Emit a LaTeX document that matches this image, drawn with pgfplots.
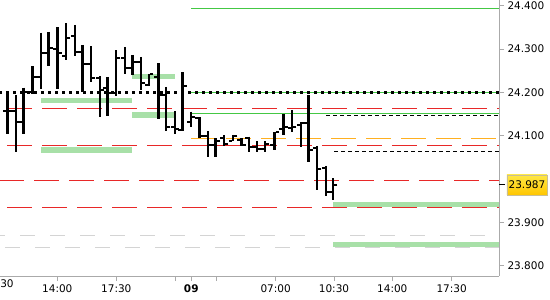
\documentclass[border=0pt]{standalone}
\usepackage{fontspec}
\setmainfont{DejaVu Sans}
\usepackage{pgfplots}
\usepackage{pgfplotstable}
\pgfplotsset{compat=1.18}
\definecolor{lgreen}{RGB}{168,224,168}
\definecolor{sgreen}{RGB}{68,200,68}
\definecolor{dred}{RGB}{232,40,40}
\definecolor{orng}{RGB}{255,176,32}
\definecolor{lgray}{RGB}{212,212,212}
\definecolor{axgray}{RGB}{170,170,170}
\definecolor{ytop}{RGB}{255,232,70}
\definecolor{ybot}{RGB}{255,198,0}
\definecolor{yborder}{RGB}{200,190,150}

\pgfplotstableread{
x o h l c
7.5 24.158 24.202 24.104 24.158
16 24.158 24.194 24.062 24.133
23.5 24.133 24.211 24.104 24.201
32.5 24.201 24.260 24.196 24.235
41 24.236 24.338 24.207 24.292
48.5 24.292 24.340 24.260 24.302
57.5 24.300 24.350 24.207 24.291
66 24.284 24.360 24.275 24.325
75 24.330 24.356 24.284 24.294
82.5 24.294 24.310 24.201 24.266
91 24.266 24.307 24.224 24.233
100 24.233 24.238 24.144 24.206
107.5 24.210 24.236 24.146 24.198
116 24.198 24.298 24.192 24.279
125 24.279 24.305 24.243 24.256
132.5 24.256 24.287 24.240 24.271
141 24.271 24.282 24.206 24.221
149 24.217 24.243 24.215 24.243
158.5 24.236 24.268 24.139 24.194
166 24.194 24.213 24.112 24.121
175 24.121 24.157 24.104 24.116
182.5 24.114 24.247 24.111 24.215
191 24.133 24.156 24.120 24.143
199.5 24.141 24.143 24.096 24.100
208 24.100 24.111 24.052 24.079
215.5 24.079 24.095 24.052 24.088
224 24.095 24.102 24.077 24.082
233 24.088 24.102 24.088 24.100
241.5 24.090 24.094 24.077 24.079
249 24.095 24.098 24.062 24.075
257 24.075 24.088 24.063 24.070
265 24.070 24.088 24.063 24.082
274.5 24.079 24.110 24.067 24.110
283.5 24.116 24.150 24.102 24.120
292 24.117 24.160 24.108 24.121
301 24.125 24.131 24.075 24.129
308.5 24.129 24.194 24.040 24.067
317 24.071 24.077 23.975 24.023
326 24.025 24.031 23.961 23.971
333 23.971 24.002 23.952 23.987
}\ohlc

\begin{document}
\begin{tikzpicture}
\begin{axis}[
  at={(-1bp,24bp)}, anchor=south west,
  scale only axis, width=500bp, height=276bp,
  xmin=-1, xmax=499, ymin=23.7767, ymax=24.4134,
  axis x line*=bottom, axis y line*=right,
  axis line style={axgray, line width=1bp, -},
  tick align=outside, major tick length=5bp,
  tick style={axgray, line width=1bp},
  xtick={57.3,116.3,175.3,191.3,216.3,275.7,334,392.3,451.7},
  xticklabels={14:00,17:30,,\textbf{09},,07:00,10:30,14:00,17:30},
  extra x ticks={7}, extra x tick labels={30},
  extra x tick style={major tick length=0bp},
  ytick={23.8,23.9,24.1,24.2,24.3,24.4},
  yticklabels={23.800,23.900,24.100,24.200,24.300,24.400},
  ticklabel style={font=\fontsize{10.5bp}{12bp}\selectfont, text=black},
  extra y ticks={23.987}, extra y tick labels={23.987},
  extra y tick style={major tick length=6bp, tick style={black, line width=1bp},
    yticklabel style={draw=yborder, top color=ytop, bottom color=ybot,
      minimum height=20bp, inner xsep=1.7bp, xshift=1.7bp}},
  clip=true,
]
% green zones
\addplot[lgreen, line width=5.5bp, forget plot] coordinates {(41,24.182) (132,24.182)};
\addplot[lgreen, line width=5.5bp, forget plot] coordinates {(41,24.067) (132,24.067)};
\addplot[lgreen, line width=5.5bp, forget plot] coordinates {(132,24.237) (175,24.237)};
\addplot[lgreen, line width=5.5bp, forget plot] coordinates {(132,24.148) (175,24.148)};
\addplot[lgreen, line width=5.5bp, forget plot] coordinates {(333,23.942) (499,23.942)};
\addplot[lgreen, line width=5.5bp, forget plot] coordinates {(333,23.849) (499,23.849)};
% gray dashed
\addplot[lgray, line width=1bp, dash pattern=on 15bp off 15bp] coordinates {(-10,23.871) (499,23.871)};
\addplot[lgray, line width=1bp, dash pattern=on 15bp off 15bp] coordinates {(5,23.843) (499,23.843)};
% red dashed
\addplot[dred, line width=1bp, dash pattern=on 25bp off 10bp] coordinates {(7,24.164) (499,24.164)};
\addplot[dred, line width=1bp, dash pattern=on 25bp off 10bp] coordinates {(7,24.078) (499,24.078)};
\addplot[dred, line width=1bp, dash pattern=on 25bp off 10bp] coordinates {(-1,23.998) (499,23.998)};
\addplot[dred, line width=1bp, dash pattern=on 25bp off 10bp] coordinates {(7,23.935) (499,23.935)};
% orange dashed
\addplot[orng, line width=1bp, dash pattern=on 25bp off 10bp] coordinates {(191,24.095) (499,24.095)};
% green thin lines
\addplot[sgreen, line width=1bp] coordinates {(191,24.394) (499,24.394)};
\addplot[sgreen, line width=1bp] coordinates {(191,24.200) (499,24.200)};
\addplot[sgreen, line width=1bp] coordinates {(191,24.152) (499,24.152)};
% black short dashed
\addplot[black, line width=1bp, dash pattern=on 4bp off 3bp] coordinates {(326,24.148) (499,24.148)};
\addplot[black, line width=1bp, dash pattern=on 4bp off 3bp] coordinates {(334,24.065) (499,24.065)};
% black dotted
\addplot[black, line width=2.2bp, dash pattern=on 3bp off 4bp] coordinates {(-1,24.200) (499,24.200)};
% OHLC bars: high-low
\addplot[black, line width=2.6bp, mark=none, -,
  quiver={u=0, v={\thisrow{l}-\thisrow{h}}, scale arrows=1}]
  table[x=x, y=h] {\ohlc};
% open (left) and close (right) ticks
\addplot[black, only marks, mark=-, mark size=1.5bp,
  mark options={xshift=-2.8bp, line width=2bp, black}] table[x=x, y=o] {\ohlc};
\addplot[black, only marks, mark=-, mark size=1.5bp,
  mark options={xshift=2.8bp, line width=2bp, black}] table[x=x, y=c] {\ohlc};
\end{axis}
\pgfresetboundingbox
\path[use as bounding box] (0,0) rectangle (550bp,300bp);
\end{tikzpicture}
\end{document}
